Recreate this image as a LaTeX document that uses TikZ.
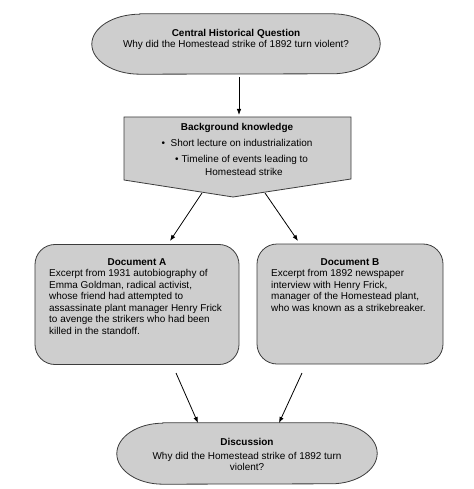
\documentclass[tikz,border=0pt]{standalone}
\usepackage{fontspec}
\setmainfont{Liberation Sans}
\usetikzlibrary{arrows.meta}
\definecolor{boxfill}{RGB}{206,206,206}
\definecolor{boxline}{RGB}{60,60,60}
\begin{document}
\begin{tikzpicture}[x=1bp,y=-1bp,
  shapebox/.style={draw=boxline, line width=0.8bp, fill=boxfill, inner sep=0pt},
  docbox/.style={shapebox, rounded corners=20bp},
  txt/.style={inner sep=0pt, font=\fontsize{10}{11.5}\selectfont},
  arr/.style={draw=black, line width=0.8bp, -{Latex[length=6bp,width=4.5bp]}}]
\useasboundingbox (0,0) rectangle (474,489);

% shapes
\node[inner sep=0pt, minimum width=288bp, minimum height=60bp] (chq) at (236,44) {};
\draw[shapebox] ([xshift=48bp]chq.north west) -- ([xshift=-48bp]chq.north east)
  arc[start angle=90, end angle=-90, x radius=48bp, y radius=30bp]
  -- ([xshift=48bp]chq.south west)
  arc[start angle=270, end angle=90, x radius=48bp, y radius=30bp] -- cycle;
\draw[shapebox] (124,117) -- (351,117) -- (351,179) -- (233,197) -- (124,180) -- cycle;
\node[inner sep=0pt, minimum width=227bp, minimum height=62bp] (bg) at (237.5,148) {};
\node[docbox, minimum width=204bp, minimum height=120bp] (docA) at (137,304.5) {};
\node[docbox, minimum width=186bp, minimum height=120bp] (docB) at (350,304) {};
\node[inner sep=0pt, minimum width=260bp, minimum height=61bp] (disc) at (247,453.5) {};
\draw[shapebox] ([xshift=46bp]disc.north west) -- ([xshift=-46bp]disc.north east)
  arc[start angle=90, end angle=-90, x radius=46bp, y radius=30.5bp]
  -- ([xshift=46bp]disc.south west)
  arc[start angle=270, end angle=90, x radius=46bp, y radius=30.5bp] -- cycle;

% texts
\node[txt, align=center] (chqt) at (236,39.5) {\textbf{Central Historical Question}\\Why did the Homestead strike of 1892 turn violent?};
\node[txt, anchor=base] (bgt) at (237,130.6) {\textbf{Background knowledge}};
\node[txt, anchor=base] (bg1) at (237,146.6) {\textbullet\hspace{5.5bp}Short lecture on industrialization};
\node[txt, anchor=base] (bg2) at (241.5,162.6) {\textbullet\hspace{3bp}Timeline of events leading to};
\node[txt, anchor=base] (bg3) at (244,175.6) {Homestead strike};

\node[txt, anchor=base] (dAt) at (137,265.6) {\textbf{Document A}};
\node[txt, anchor=north west, align=left] (dAb) at (49,269.4) {Excerpt from 1931 autobiography of\\Emma Goldman, radical activist,\\whose friend had attempted to\\assassinate plant manager Henry Frick\\to avenge the strikers who had been\\killed in the standoff.};
\node[txt, anchor=base] (dBt) at (350,265.6) {\textbf{Document B}};
\node[txt, anchor=north west, align=left] (dBb) at (271,269.4) {Excerpt from 1892 newspaper\\interview with Henry Frick,\\manager of the Homestead plant,\\who was known as a strikebreaker.};

\node[txt, anchor=base] (disct) at (247,445.6) {\textbf{Discussion}};
\node[txt, anchor=base, align=center] (discb) at (247,470.9) {Why did the Homestead strike of 1892 turn\\violent?};

% connector end points
\coordinate (a1s) at (239,77);  \coordinate (a1e) at (239,115);
\coordinate (a2s) at (202,193); \coordinate (a2e) at (170,241);
\coordinate (a3s) at (265,193); \coordinate (a3e) at (298,241);
\coordinate (a4s) at (176,373); \coordinate (a4e) at (198,423);
\coordinate (a5s) at (302,373); \coordinate (a5e) at (279,423);

\draw[arr] (a1s) -- (a1e);
\draw[arr] (a2s) -- (a2e);
\draw[arr] (a3s) -- (a3e);
\draw[arr] (a4s) -- (a4e);
\draw[arr] (a5s) -- (a5e);
\end{tikzpicture}
\end{document}
